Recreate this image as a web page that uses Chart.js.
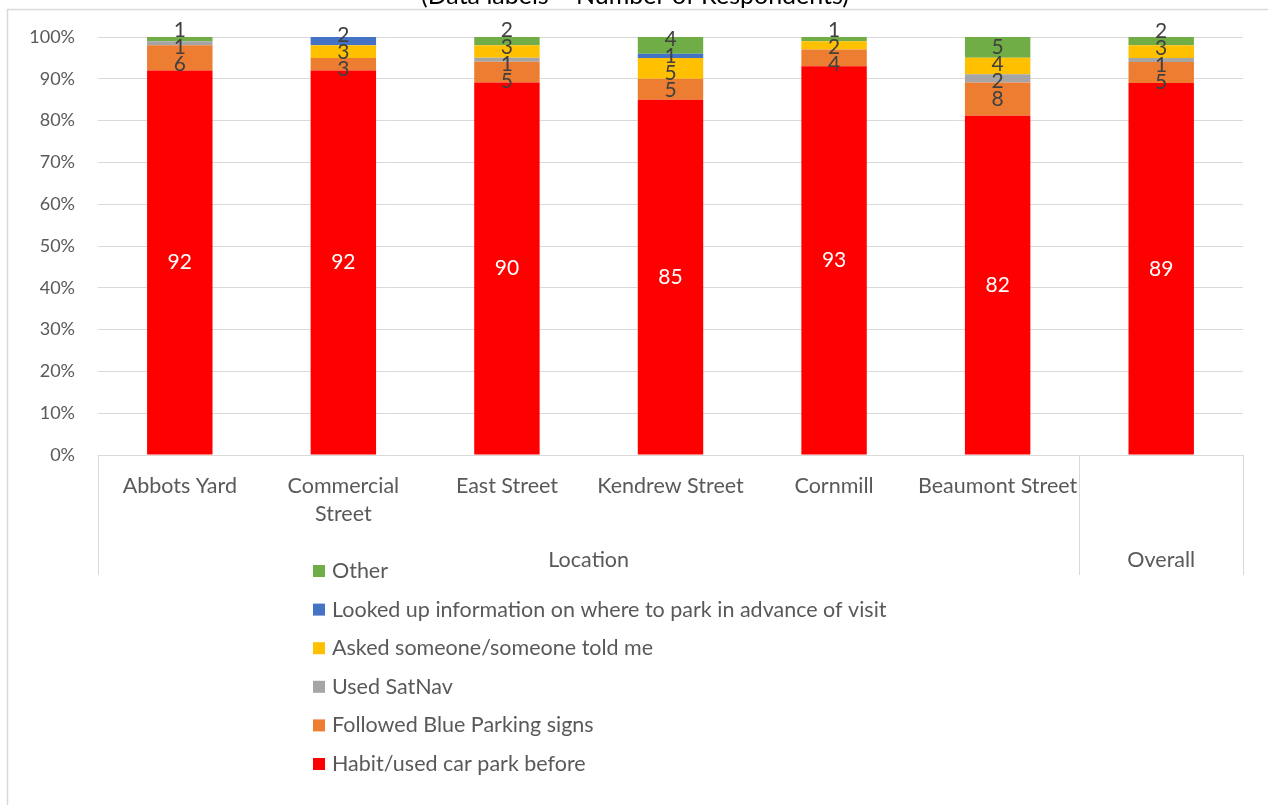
<!DOCTYPE html>
<html>
<head>
<meta charset="utf-8">
<title>How drivers found the car park</title>
<script src="https://cdn.jsdelivr.net/npm/chart.js@4.4.1/dist/chart.umd.min.js"></script>
<style>
  html, body { margin: 0; padding: 0; background: #fff; }
  canvas { display: block; }
</style>
</head>
<body>
<canvas id="myChart" width="1268" height="805"></canvas>
<script>
// categories (inner axis level) and the outer grouping
var categories = ['Abbots Yard', ['Commercial', 'Street'], 'East Street', 'Kendrew Street', 'Cornmill', 'Beaumont Street', ''];
var groupNames = ['Location', 'Overall'];
var groupSizes = [6, 1];

// number of respondents per answer
var habit    = [92, 92, 90, 85, 93, 82, 89];
var blueSigns = [6, 3, 5, 5, 4, 8, 5];
var satNav   = [1, 0, 1, 0, 0, 2, 1];
var asked    = [0, 3, 3, 5, 2, 4, 3];
var lookedUp = [0, 2, 0, 1, 0, 0, 0];
var other    = [1, 0, 2, 4, 1, 5, 2];

var seriesNames = [
    'Habit/used car park before',
    'Followed Blue Parking signs',
    'Used SatNav',
    'Asked someone/someone told me',
    'Looked up information on where to park in advance of visit',
    'Other'
];
var seriesColors = ['#FF0000', '#ED7D31', '#A5A5A5', '#FFC000', '#4472C4', '#70AD47'];
var yTicks = [0, 10, 20, 30, 40, 50, 60, 70, 80, 90, 100];

var titleText = '(Data labels = Number of Respondents)';
var FONT = 'Lato, "Open Sans", sans-serif';
var TEXT = '#595959';

var allSeries = [habit, blueSigns, satNav, asked, lookedUp, other];

// each bar is shown as a share of the location's total
var totals = categories.map(function (c, i) {
    return allSeries.reduce(function (s, arr) { return s + arr[i]; }, 0);
});

var datasets = allSeries.map(function (arr, d) {
    return {
        label: seriesNames[d],
        counts: arr,
        data: arr.map(function (v, i) { return v / totals[i] * 100; }),
        backgroundColor: seriesColors[d],
        borderWidth: 0,
        barPercentage: 0.8,
        categoryPercentage: 0.5
    };
});

// push overlapping labels apart, keeping each cluster centred on its segments
var spreadLabels = function (items, h) {
    items.sort(function (a, b) { return a.want - b.want; });
    var clusters = items.map(function (it) { return { members: [it] }; });
    var place = function (c) {
        var mean = c.members.reduce(function (s, m) { return s + m.want; }, 0) / c.members.length;
        c.start = mean - (c.members.length - 1) * h / 2;
    };
    clusters.forEach(place);
    var merged = true;
    while (merged) {
        merged = false;
        for (var k = 0; k < clusters.length - 1; k++) {
            var a = clusters[k], b = clusters[k + 1];
            if (b.start < a.start + a.members.length * h) {
                a.members = a.members.concat(b.members);
                place(a);
                clusters.splice(k + 1, 1);
                merged = true;
                break;
            }
        }
    }
    clusters.forEach(function (c) {
        c.members.forEach(function (m, j) { m.y = c.start + j * h; });
    });
};

var overlay = {
    id: 'overlay',
    afterDatasetsDraw: function (chart) {
        var ctx = chart.ctx;
        ctx.save();
        ctx.font = '21px ' + FONT;
        ctx.textAlign = 'center';
        ctx.textBaseline = 'middle';
        categories.forEach(function (c, i) {
            var items = [];
            chart.data.datasets.forEach(function (ds, d) {
                var n = ds.counts[i];
                if (!n) return;
                var el = chart.getDatasetMeta(d).data[i];
                items.push({ text: String(n), x: el.x, want: (el.y + el.base) / 2, color: d === 0 ? '#FFFFFF' : '#404040' });
            });
            spreadLabels(items, 17);
            items.forEach(function (it) {
                ctx.fillStyle = it.color;
                ctx.fillText(it.text, it.x, it.y);
            });
        });
        ctx.restore();
    },
    afterDraw: function (chart) {
        var ctx = chart.ctx;
        var area = chart.chartArea;
        var xs = chart.scales.x;
        ctx.save();

        // outer chart frame
        ctx.strokeStyle = '#D9D9D9';
        ctx.lineWidth = 1.5;
        ctx.strokeRect(7.5, 9.5, 2000, 2000);

        // title
        ctx.fillStyle = '#000';
        ctx.font = '25px ' + FONT;
        ctx.textAlign = 'center';
        ctx.textBaseline = 'alphabetic';
        ctx.fillText(titleText, 635, 4);

        // outer axis level: separators and group names
        ctx.strokeStyle = '#D9D9D9';
        ctx.lineWidth = 1;
        var bottom = 575;
        var start = 0;
        var left = area.left;
        ctx.font = '21.5px ' + FONT;
        ctx.fillStyle = TEXT;
        ctx.textBaseline = 'middle';
        ctx.beginPath();
        ctx.moveTo(Math.round(left) + 0.5, area.bottom);
        ctx.lineTo(Math.round(left) + 0.5, bottom);
        groupNames.forEach(function (g, k) {
            var end = start + groupSizes[k];
            var right = end >= categories.length ? area.right
                : (xs.getPixelForValue(end - 1) + xs.getPixelForValue(end)) / 2;
            ctx.moveTo(Math.round(right) + 0.5, area.bottom);
            ctx.lineTo(Math.round(right) + 0.5, bottom);
            ctx.fillText(g, (left + right) / 2, 560);
            left = right;
            start = end;
        });
        ctx.stroke();

        // legend, last series first
        ctx.textAlign = 'left';
        var order = chart.data.datasets.slice().reverse();
        order.forEach(function (ds, j) {
            var y = 571 + j * 38.6;
            ctx.fillStyle = ds.backgroundColor;
            ctx.fillRect(313, y - 6, 12, 12);
            ctx.fillStyle = TEXT;
            ctx.fillText(ds.label, 332, y);
        });
        ctx.restore();
    }
};

var ctx = document.getElementById('myChart');
var myChart = new Chart(ctx, {
    type: 'bar',
    data: { labels: categories, datasets: datasets },
    options: {
        responsive: false,
        animation: false,
        layout: { padding: { top: 37, right: 25, left: 0, bottom: 0 } },
        plugins: {
            legend: { display: false },
            tooltip: { enabled: false }
        },
        scales: {
            x: {
                stacked: true,
                grid: { display: false, drawTicks: false },
                border: { display: true, color: '#D9D9D9' },
                ticks: {
                    color: TEXT,
                    font: { family: FONT, size: 21.5, lineHeight: 1.3 },
                    padding: 17,
                    maxRotation: 0,
                    autoSkip: false
                },
                afterFit: function (s) { s.height = 350; }
            },
            y: {
                stacked: true,
                min: 0,
                max: 100,
                afterBuildTicks: function (s) {
                    s.ticks = yTicks.map(function (v) { return { value: v }; });
                },
                grid: { color: '#D9D9D9', drawTicks: false },
                border: { display: false },
                ticks: {
                    color: TEXT,
                    font: { family: FONT, size: 18 },
                    padding: 23,
                    callback: function (v) { return v + '%'; }
                },
                afterFit: function (s) { s.width = 98; }
            }
        }
    },
    plugins: [overlay]
});
</script>
</body>
</html>
